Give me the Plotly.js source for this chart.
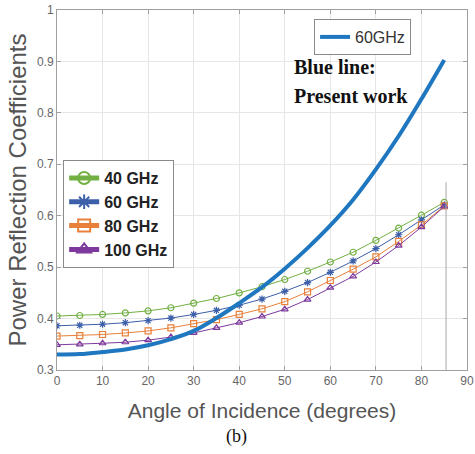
<!DOCTYPE html>
<html>
<head>
<meta charset="utf-8">
<script src="https://cdn.plot.ly/plotly-3.0.1.min.js"></script>
<style>
  html, body { margin: 0; padding: 0; background: #fff; }
  #chart { width: 475px; height: 454px; }
</style>
</head>
<body>
<div id="chart"></div>
<script>
// Angle of incidence (degrees), sampled every 5 degrees
const angles = [0, 5, 10, 15, 20, 25, 30, 35, 40, 45, 50, 55, 60, 65, 70, 75, 80, 85];

// Present work, 60 GHz
const presentWork = [0.330, 0.331, 0.335, 0.340, 0.348, 0.360, 0.376, 0.401, 0.430, 0.461,
                     0.497, 0.537, 0.581, 0.631, 0.690, 0.755, 0.827, 0.903];

// Reference curves at four frequencies
const ghz40  = [0.405, 0.406, 0.408, 0.411, 0.415, 0.421, 0.430, 0.439, 0.450, 0.462,
                0.476, 0.492, 0.510, 0.529, 0.552, 0.576, 0.601, 0.626];
const ghz60  = [0.386, 0.387, 0.389, 0.392, 0.396, 0.401, 0.408, 0.416, 0.426, 0.438,
                0.453, 0.470, 0.490, 0.512, 0.536, 0.563, 0.592, 0.621];
const ghz80  = [0.366, 0.367, 0.369, 0.372, 0.376, 0.382, 0.390, 0.398, 0.408, 0.419,
                0.433, 0.452, 0.474, 0.496, 0.520, 0.550, 0.582, 0.619];
const ghz100 = [0.349, 0.350, 0.352, 0.354, 0.358, 0.364, 0.372, 0.382, 0.392, 0.404,
                0.418, 0.437, 0.460, 0.482, 0.510, 0.542, 0.578, 0.618];

const seriesNames = ['40 GHz', '60 GHz', '80 GHz', '100 GHz'];
const seriesValues = [ghz40, ghz60, ghz80, ghz100];
const seriesColors = ['#72b043', '#3c5fa9', '#e8803a', '#7d3a9c'];
const seriesSymbols = ['circle-open', 'asterisk-open', 'square-open', 'triangle-up-open'];

const traces = seriesNames.map((name, i) => ({
  type: 'scatter',
  mode: 'lines+markers',
  name: name,
  x: angles,
  y: seriesValues[i],
  line: { color: seriesColors[i], width: 1 },
  marker: { symbol: seriesSymbols[i], size: 6, color: seriesColors[i], line: { width: 1.2, color: seriesColors[i] } },
  legend: 'legend'
}));

traces.push({
  type: 'scatter',
  mode: 'lines',
  name: '60GHz',
  x: angles,
  y: presentWork,
  line: { color: '#1f77c0', width: 4, shape: 'spline' },
  legend: 'legend2'
});

const tickFont = { family: 'Liberation Sans, Arial, sans-serif', size: 12, color: '#666' };

const layout = {
  width: 475,
  height: 454,
  margin: { l: 57, r: 8, t: 10, b: 84 },
  paper_bgcolor: '#fff',
  plot_bgcolor: '#fff',
  showlegend: true,
  xaxis: {
    range: [0, 90],
    dtick: 10,
    showgrid: true,
    gridcolor: '#e6e6e6',
    zeroline: false,
    showline: true,
    linecolor: '#a0a0a0',
    linewidth: 1,
    mirror: 'ticks',
    ticks: 'inside',
    ticklen: 4,
    tickcolor: '#a0a0a0',
    tickfont: tickFont,
    title: { text: 'Angle of Incidence (degrees)', font: { family: 'Liberation Sans, Arial, sans-serif', size: 21, color: '#555' }, standoff: 15 }
  },
  yaxis: {
    range: [0.3, 1],
    dtick: 0.1,
    showgrid: true,
    gridcolor: '#e6e6e6',
    zeroline: false,
    showline: true,
    linecolor: '#a0a0a0',
    linewidth: 1,
    mirror: 'ticks',
    ticks: 'inside',
    ticklen: 4,
    tickcolor: '#a0a0a0',
    tickfont: tickFont,
    title: { text: 'Power Reflection Coefficients', font: { family: 'Liberation Sans, Arial, sans-serif', size: 24, color: '#555' }, standoff: 3 }
  },
  legend: {
    x: 0.015, y: 0.583, xanchor: 'left', yanchor: 'top',
    bgcolor: '#fff', bordercolor: '#8a8a8a', borderwidth: 1,
    font: { family: 'Liberation Sans, Arial, sans-serif', size: 16, color: '#222', weight: 'bold' },
    itemsizing: 'constant', tracegroupgap: 0
  },
  legend2: {
    x: 0.627, y: 0.975, xanchor: 'left', yanchor: 'top',
    bgcolor: '#fff', bordercolor: '#8a8a8a', borderwidth: 1,
    font: { family: 'Liberation Sans, Arial, sans-serif', size: 16, color: '#333' }
  },
  shapes: [
    { type: 'line', xref: 'x', yref: 'y', x0: 85.4, x1: 85.4, y0: 0.3, y1: 0.665,
      line: { color: '#a8a8a8', width: 1 } }
  ],
  annotations: [
    { text: '<b>Blue line:</b>', xref: 'paper', yref: 'paper', x: 0.573, y: 0.842,
      xanchor: 'left', yanchor: 'middle', showarrow: false,
      font: { family: 'Liberation Serif, Times New Roman, serif', size: 20, color: '#111' } },
    { text: '<b>Present work</b>', xref: 'paper', yref: 'paper', x: 0.573, y: 0.761,
      xanchor: 'left', yanchor: 'middle', showarrow: false,
      font: { family: 'Liberation Serif, Times New Roman, serif', size: 20, color: '#111' } },
    { text: '(b)', xref: 'paper', yref: 'paper', x: 0.439, y: -0.186,
      xanchor: 'center', yanchor: 'middle', showarrow: false,
      font: { family: 'Liberation Serif, Times New Roman, serif', size: 18, color: '#111' } }
  ]
};

Plotly.newPlot('chart', traces, layout, { displayModeBar: false, staticPlot: true });
</script>
</body>
</html>
